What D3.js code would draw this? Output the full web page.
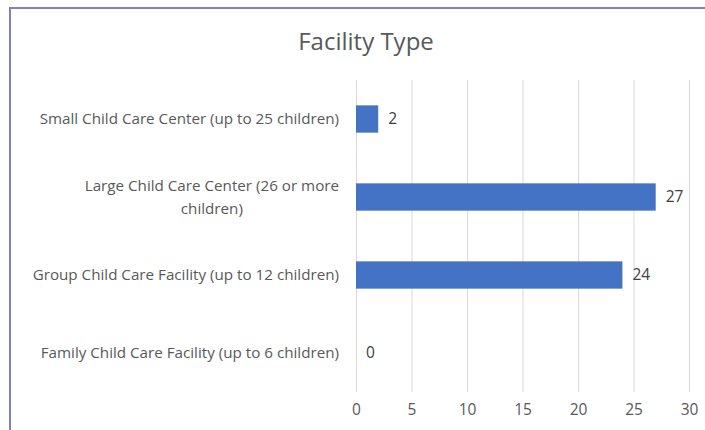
<!DOCTYPE html>
<html><head><meta charset="utf-8">
<script src="https://cdn.jsdelivr.net/npm/d3@7/dist/d3.min.js"></script>
<style>body{margin:0;background:#fff}svg{display:block}</style>
</head><body>
<script>
const title = "Facility Type";
const categories = [
  ["Small Child Care Center (up to 25 children)"],
  ["Large Child Care Center (26 or more", "children)"],
  ["Group Child Care Facility (up to 12 children)"],
  ["Family Child Care Facility (up to 6 children)"]
];
const values = [2, 27, 24, 0];
const xTicks = [0, 5, 10, 15, 20, 25, 30];

const W = 705, H = 430;
const font = "'Open Sans', 'Noto Sans', sans-serif";
const svg = d3.select("body").append("svg").attr("width", W).attr("height", H);

// chart border
svg.append("rect").attr("x", 10).attr("y", 8).attr("width", W).attr("height", H)
  .attr("fill", "#fff").attr("stroke", "#8080c0").attr("stroke-width", 2);

const margin = {left: 356, right: 16, top: 80, bottom: 38};
const x = d3.scaleLinear().domain([0, 30]).range([margin.left, 689]);
const y = d3.scaleBand().domain(d3.range(categories.length))
  .range([margin.top, H - margin.bottom]).paddingInner(0.65).paddingOuter(0.325);

// gridlines
svg.append("g").selectAll("line").data(xTicks).join("line")
  .attr("x1", d => x(d) + 0.5).attr("x2", d => x(d) + 0.5)
  .attr("y1", margin.top).attr("y2", H - margin.bottom)
  .attr("stroke", "#d9d9d9").attr("stroke-width", 1);

// axis tick labels
const xAxis = svg.append("g").attr("transform", `translate(0,${H - margin.bottom})`)
  .call(d3.axisBottom(x).tickValues(xTicks).tickSize(0).tickPadding(12));
xAxis.select(".domain").remove();
xAxis.selectAll("text").attr("font-family", font).attr("font-size", 15.5).attr("fill", "#595959");

// bars
svg.append("g").selectAll("rect").data(values).join("rect")
  .attr("x", x(0)).attr("y", (d, i) => y(i))
  .attr("width", d => x(d) - x(0)).attr("height", y.bandwidth())
  .attr("fill", "#4472c4");

// value labels
svg.append("g").selectAll("text").data(values).join("text")
  .attr("x", d => x(d) + 10).attr("y", (d, i) => y(i) + y.bandwidth() / 2)
  .attr("dy", "0.35em").attr("font-family", font).attr("font-size", 15.5)
  .attr("fill", "#404040").text(d => d);

// category labels
const catFs = 15.2;
const cg = svg.append("g");
categories.forEach((lines, i) => {
  const cy = y(i) + y.bandwidth() / 2;
  const lh = 23;
  const t = cg.append("text").attr("font-family", font).attr("font-size", catFs)
    .attr("fill", "#595959").attr("text-anchor", "middle");
  lines.forEach((ln, j) => {
    t.append("tspan").attr("y", cy + (j - (lines.length - 1) / 2) * lh).attr("dy", "0.35em").text(ln);
  });
});
// position each label block: right edge at 339, lines centred within block
cg.selectAll("text").each(function() {
  const ts = d3.select(this).selectAll("tspan").nodes();
  const wmax = d3.max(ts, n => n.getComputedTextLength());
  const cx = 339 - wmax / 2;
  ts.forEach(n => d3.select(n).attr("x", cx));
});

// title
svg.append("text").attr("x", 366).attr("y", 50).attr("text-anchor", "middle")
  .attr("font-family", font).attr("font-size", 24).attr("fill", "#595959").text(title);
</script>
</body></html>
